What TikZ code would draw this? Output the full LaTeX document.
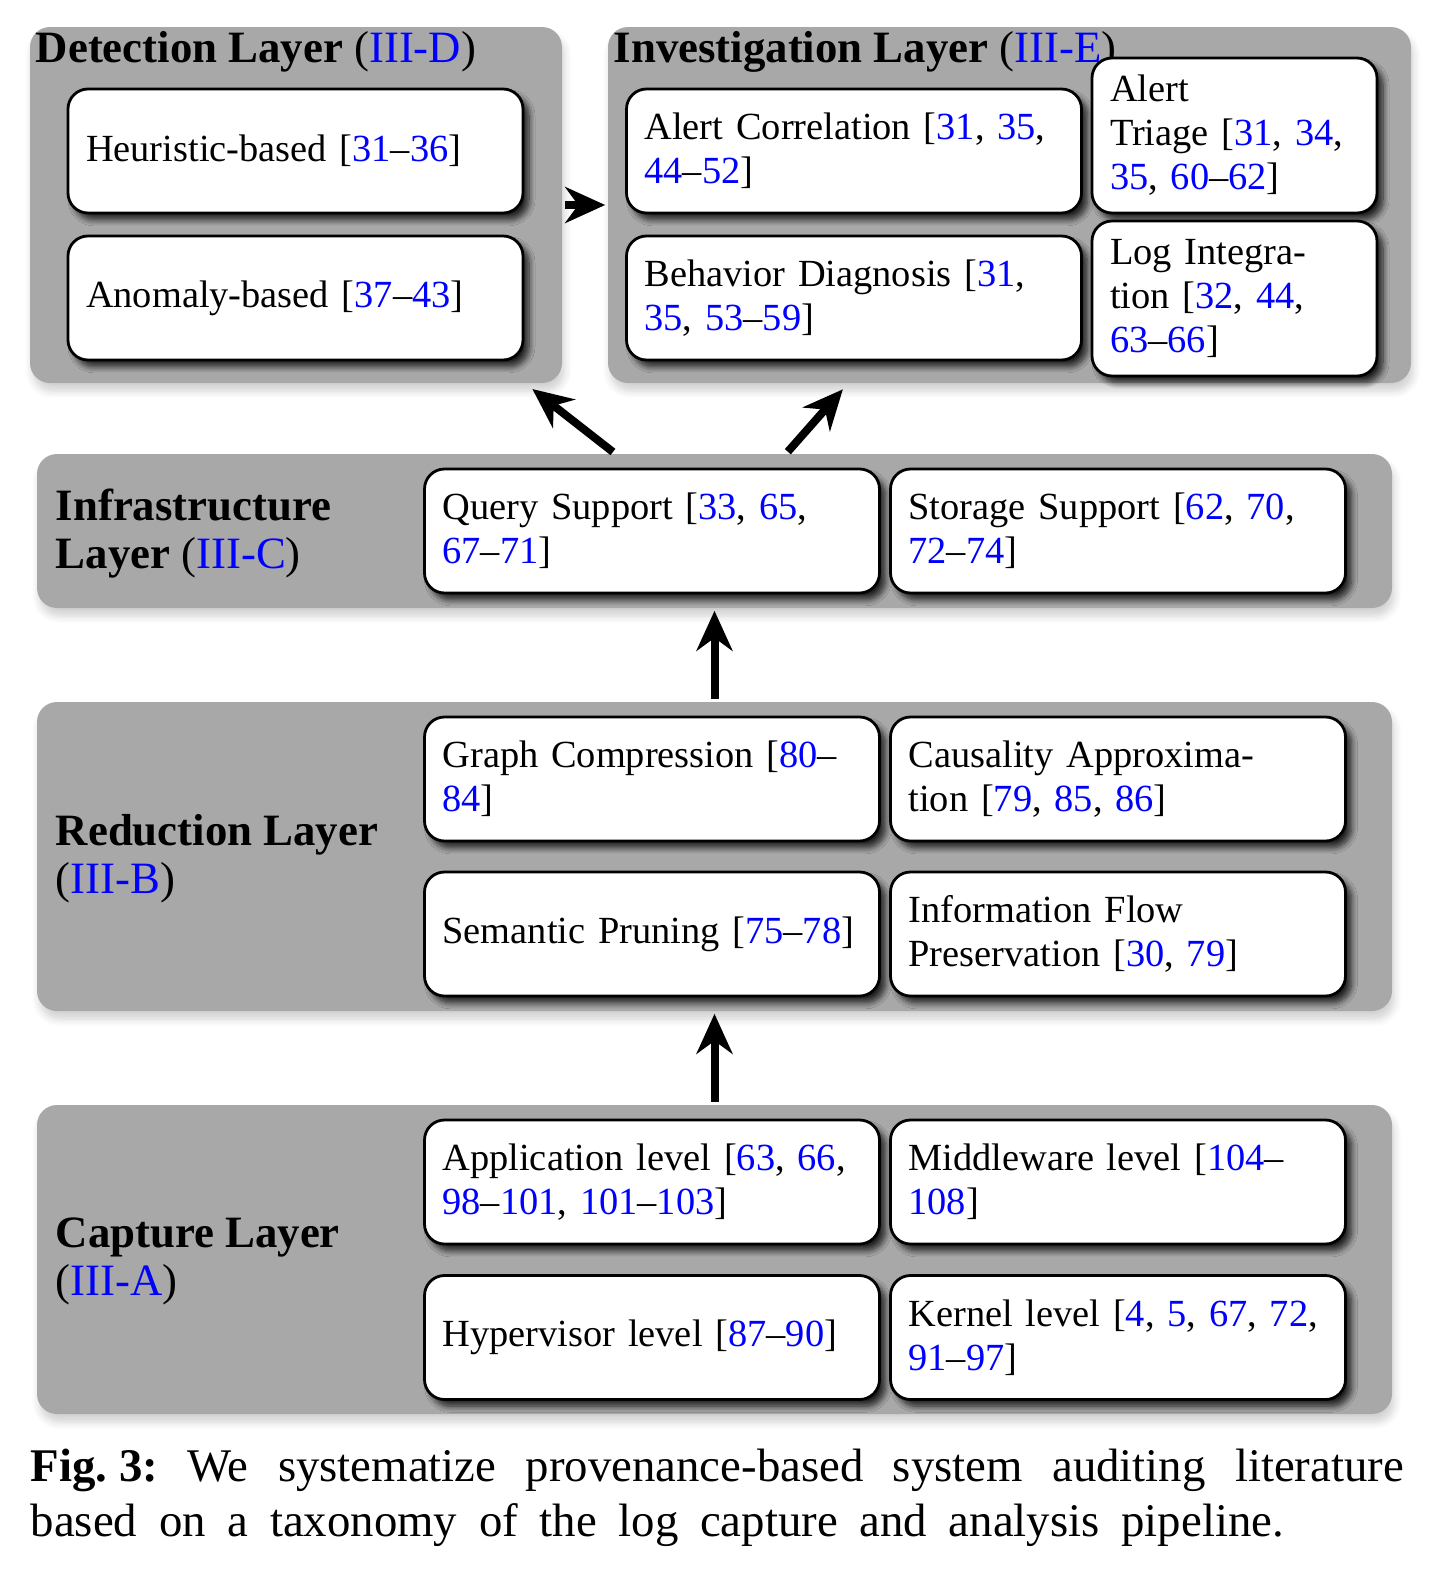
\documentclass[tikz,border=0pt]{standalone}
\usepackage{fontspec}
\setmainfont{Liberation Serif}
\usetikzlibrary{calc,arrows.meta,shadows.blur}
\definecolor{layergray}{RGB}{168,168,168}
\newcommand{\rf}[1]{\textcolor{blue}{#1}}

\begin{document}
\begin{tikzpicture}[x=0.25pt, y=-0.25pt,
    layer/.style={fill=layergray, rounded corners=5pt, inner sep=0pt,
      blur shadow={shadow xshift=0.6pt, shadow yshift=-2pt, shadow opacity=18, shadow blur steps=6}},
    item/.style={draw, fill=white, line width=0.7pt, rounded corners=5pt, align=left,
      text width=104.75pt, inner xsep=4.5pt, minimum height=31pt,
      font=\fontsize{9.6pt}{11pt}\selectfont,
      blur shadow={shadow xshift=1.5pt, shadow yshift=-1.7pt, shadow opacity=80, shadow blur steps=8, shadow blur radius=1.5pt}},
    narrow/.style={item, text width=62.25pt, minimum height=38.75pt},
    title/.style={font=\fontsize{11.2pt}{12pt}\selectfont\bfseries, align=left, inner sep=0pt},
    up/.style={line width=2pt, -{Stealth[length=10pt, width=9pt]}, shorten <=0.5pt, shorten >=0.5pt}]
  % Gray layers
  \node[layer, minimum width=133pt, minimum height=89pt] (detect) at (296,205) {};
  \node[layer, minimum width=200.75pt, minimum height=89pt] (invest) at (1009.5,205) {};
  \node[layer, minimum width=338.75pt, minimum height=38.5pt] (infra) at (714.5,531) {};
  \node[layer, minimum width=338.75pt, minimum height=77.25pt] (reduct) at (714.5,856.5) {};
  \node[layer, minimum width=338.75pt, minimum height=77.25pt] (capture) at (714.5,1259.5) {};
  % Layer titles
  \node[title, anchor=base west] (detecttitle) at (35,63) {Detection Layer \textmd{(\rf{III-D})}};
  \node[title, anchor=base west] (investtitle) at (613,63) {Investigation Layer \textmd{(\rf{III-E})}};
  \node[title, anchor=west] (infratitle) at (55,534) {Infrastructure\\Layer \textmd{(\rf{III-C})}};
  \node[title, anchor=west] (reducttitle) at (55,859) {Reduction Layer\\\textmd{(\rf{III-B})}};
  \node[title, anchor=west] (capturetitle) at (55,1261) {Capture Layer\\\textmd{(\rf{III-A})}};
  % Boxes inside the layers
  \foreach \nm/\cx/\cy/\txt in {
      heur/295.5/151/{Heuristic-based [\rf{31}--\rf{36}]},
      anom/295.5/298/{Anomaly-based [\rf{37}--\rf{43}]},
      corr/854/151/{Alert Correlation [\rf{31}, \rf{35},\\\rf{44}--\rf{52}]},
      diag/854/298/{Behavior Diagnosis [\rf{31},\\\rf{35}, \rf{53}--\rf{59}]},
      query/652/531/{Query Support [\rf{33}, \rf{65},\\\rf{67}--\rf{71}]},
      store/1118/531/{Storage Support [\rf{62}, \rf{70},\\\rf{72}--\rf{74}]},
      compr/652/779/{Graph Compression [\rf{80}--\\\rf{84}]},
      approx/1118/779/{Causality Approxima-\\tion [\rf{79}, \rf{85}, \rf{86}]},
      prune/652/934/{Semantic Pruning [\rf{75}--\rf{78}]},
      flow/1118/934/{Information Flow\\Preservation [\rf{30}, \rf{79}]},
      appl/652/1182/{Application level [\rf{63}, \rf{66},\\\rf{98}--\rf{101}, \rf{101}--\rf{103}]},
      middle/1118/1182/{Middleware level [\rf{104}--\\\rf{108}]},
      hyper/652/1337.5/{Hypervisor level [\rf{87}--\rf{90}]},
      kern/1118/1337.5/{Kernel level [\rf{4}, \rf{5}, \rf{67}, \rf{72},\\\rf{91}--\rf{97}]}
    } {
      \node[item] (\nm) at (\cx,\cy) {\txt};
    }
  \node[narrow] (triage) at (1234.5,135.5) {Alert\\Triage [\rf{31}, \rf{34},\\\rf{35}, \rf{60}--\rf{62}]};
  \node[narrow] (logint) at (1234.5,298.5) {Log Integra-\\tion [\rf{32}, \rf{44},\\\rf{63}--\rf{66}]};
  % Arrows between layers
  \draw[up] (detect) -- (invest);
  \draw[up] ($(infra.north)+(-100,0)$) -- ($(detect.south east)+(-32,4)$);
  \draw[up] ($(infra.north)+(72,0)$) -- ($(invest.south west)+(237,4)$);
  \draw[up] (reduct) -- (infra);
  \draw[up] (capture) -- (reduct);
  % Caption
  \node[anchor=base west, inner sep=0pt, font=\fontsize{11.7pt}{13.75pt}\selectfont] (caption1) at (30,1481)
    {\makebox[343.25pt][s]{\mbox{\textbf{Fig.\ 3:}} We systematize provenance-based system auditing literature}};
  \node[anchor=base west, inner sep=0pt, font=\fontsize{11.7pt}{13.75pt}\selectfont] (caption2) at (30,1536)
    {\makebox[313.25pt][s]{based on a taxonomy of the log capture and analysis pipeline.}};
  % fix the page to the reference size
  \pgfresetboundingbox
  \useasboundingbox (0,0) rectangle (1434,1574);
\end{tikzpicture}
\end{document}
